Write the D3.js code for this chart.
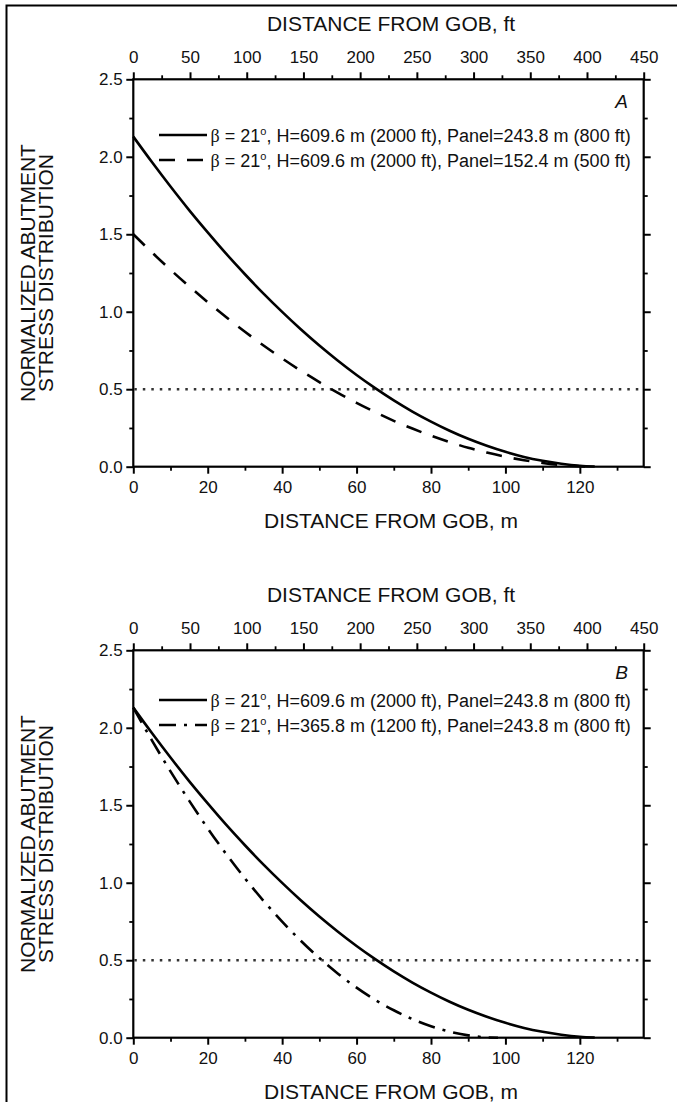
<!DOCTYPE html>
<html><head><meta charset="utf-8">
<script src="https://cdn.jsdelivr.net/npm/d3@7"></script>
<style>
body{margin:0;background:#fff}
svg{display:block}
text{font-family:"Liberation Sans",Arial,Helvetica,sans-serif;fill:#111}
</style>
</head><body>
<svg id="c" width="677" height="1102"></svg>
<script>
// ---------- data ----------
const distM = [0,5,10,15,20,25,30,35,40,45,50,55,60,65,70,75,80,85,90,95,100,105,110,115,120,124];
const stressH2000P800 = [2.13,1.966,1.808,1.656,1.512,1.373,1.242,1.117,0.999,0.887,0.782,0.684,0.592,0.507,0.428,0.356,0.291,0.232,0.180,0.135,0.096,0.063,0.038,0.019,0.006,0.001];
const stressH2000P500 = [1.50,1.383,1.271,1.164,1.062,0.964,0.871,0.782,0.699,0.620,0.546,0.476,0.412,0.352,0.296,0.246,0.200,0.159,0.122,0.091,0.064,0.042,0.024,0.011,0.003,0.0];
const distMShort = [0,5,10,15,20,25,30,35,40,45,50,55,60,65,70,75,80,85,90,95,98];
const stressH1200P800 = [2.13,1.919,1.719,1.530,1.351,1.184,1.028,0.883,0.749,0.626,0.514,0.413,0.323,0.244,0.177,0.120,0.074,0.039,0.015,0.002,0.0];
const thresholdLevel = 0.5;

const yTicks = [0,0.5,1.0,1.5,2.0,2.5];
const yMinorTicks = [0.25,0.75,1.25,1.75,2.25];
const xTicksM = [0,20,40,60,80,100,120];
const xMinorM = [10,30,50,70,90,110,130];
const xTicksFt = [0,50,100,150,200,250,300,350,400,450];
const xMinorFt = [25,75,125,175,225,275,325,375,425];

const labelFt = "DISTANCE FROM GOB, ft";
const labelM = "DISTANCE FROM GOB, m";
const yLabel1 = "NORMALIZED ABUTMENT";
const yLabel2 = "STRESS DISTRIBUTION";
const legendA = ["β = 21°, H=609.6 m (2000 ft), Panel=243.8 m (800 ft)",
                 "β = 21°, H=609.6 m (2000 ft), Panel=152.4 m (500 ft)"];
const legendB = ["β = 21°, H=609.6 m (2000 ft), Panel=243.8 m (800 ft)",
                 "β = 21°, H=365.8 m (1200 ft), Panel=243.8 m (800 ft)"];

// ---------- layout ----------
const svg = d3.select("#c");
svg.append("rect").attr("width",677).attr("height",1102).attr("fill","#fff");
// partial outer frame (left + top)
svg.append("path").attr("d","M6.5,1102V5.5H677").attr("fill","none").attr("stroke","#000").attr("stroke-width",2);

const L = 133.3, R = 643.7, PH = 387.4;
const styles = {
  solid:   {dash:null, w:2.6},
  dashed:  {dash:"16,12", w:2.6},
  dashdot: {dash:"17,8,3,8", w:2.6}
};

function drawPanel(cfg){
  const top = cfg.top, bottom = top + PH;
  const x = d3.scaleLinear().domain([0, 450*0.3048]).range([L, R]);
  const xFt = d3.scaleLinear().domain([0, 450]).range([L, R]);
  const y = d3.scaleLinear().domain([0, 2.5]).range([bottom, top]);
  const g = svg.append("g");

  const fs = 17;
  function styleAxis(sel, minor){
    sel.select(".domain").remove();
    sel.selectAll("line").attr("stroke","#000").attr("stroke-width", minor?1.8:2);
    sel.selectAll("text").attr("font-size",fs).attr("fill","#222")
       .attr("font-family",'"Liberation Sans",Arial,sans-serif');
  }
  // bottom
  g.append("g").attr("transform",`translate(0,${bottom})`)
    .call(d3.axisBottom(x).tickValues(xTicksM).tickSize(7).tickPadding(7).tickFormat(d3.format("d")))
    .call(s=>styleAxis(s,false));
  g.append("g").attr("transform",`translate(0,${bottom})`)
    .call(d3.axisBottom(x).tickValues(xMinorM).tickSize(4).tickFormat(""))
    .call(s=>styleAxis(s,true));
  // top (ft)
  g.append("g").attr("transform",`translate(0,${top})`)
    .call(d3.axisTop(xFt).tickValues(xTicksFt).tickSize(7).tickPadding(9).tickFormat(d3.format("d")))
    .call(s=>styleAxis(s,false));
  g.append("g").attr("transform",`translate(0,${top})`)
    .call(d3.axisTop(xFt).tickValues(xMinorFt).tickSize(4).tickFormat(""))
    .call(s=>styleAxis(s,true));
  // left
  g.append("g").attr("transform",`translate(${L},0)`)
    .call(d3.axisLeft(y).tickValues(yTicks).tickSize(7).tickPadding(3.6).tickFormat(d3.format(".1f")))
    .call(s=>styleAxis(s,false));
  g.append("g").attr("transform",`translate(${L},0)`)
    .call(d3.axisLeft(y).tickValues(yMinorTicks).tickSize(4).tickFormat(""))
    .call(s=>styleAxis(s,true));
  // right
  g.append("g").attr("transform",`translate(${R},0)`)
    .call(d3.axisRight(y).tickValues(yTicks).tickSize(7).tickFormat(""))
    .call(s=>styleAxis(s,false));
  g.append("g").attr("transform",`translate(${R},0)`)
    .call(d3.axisRight(y).tickValues(yMinorTicks).tickSize(4).tickFormat(""))
    .call(s=>styleAxis(s,true));

  // frame
  g.append("rect").attr("x",L).attr("y",top).attr("width",R-L).attr("height",PH)
    .attr("fill","none").attr("stroke","#000").attr("stroke-width",2.2);

  // threshold dotted line
  g.append("line").attr("x1",L+1).attr("x2",R-1).attr("y1",y(thresholdLevel)).attr("y2",y(thresholdLevel))
    .attr("stroke","#333").attr("stroke-width",2.5).attr("stroke-dasharray","2.5,6");

  // curves
  const line = d3.line().x(d=>x(d[0])).y(d=>y(d[1])).curve(d3.curveMonotoneX);
  cfg.series.forEach(s=>{
    const st = styles[s.style];
    g.append("path").datum(s.xs.map((v,i)=>[v,s.ys[i]]))
      .attr("d",line).attr("fill","none").attr("stroke","#000")
      .attr("stroke-width",st.w).attr("stroke-dasharray",st.dash)
      .attr("stroke-linejoin","round");
  });

  // legend
  cfg.series.forEach((s,i)=>{
    const ly = cfg.legendY[i];
    const st = styles[s.style];
    g.append("line").attr("x1",159).attr("x2",207).attr("y1",ly).attr("y2",ly)
      .attr("stroke","#000").attr("stroke-width",st.w).attr("stroke-dasharray",st.dash);
    const parts = s.label.split("°");
    const t = g.append("text").attr("x",210.6).attr("y",ly+6.6).attr("font-size",18);
    const beta = parts[0].charAt(0);
    t.append("tspan").attr("font-family",'"Liberation Serif","Times New Roman",serif').text(beta);
    t.append("tspan").text(parts[0].slice(1));
    t.append("tspan").attr("dy",-7).attr("font-size",11).text("o");
    t.append("tspan").attr("dy",7).text(parts[1]);
  });

  // panel letter
  g.append("text").attr("x",628).attr("y",top+29).attr("text-anchor","end")
    .attr("font-size",19).attr("font-style","italic").text(cfg.letter);

  // axis titles
  const cx = 391;
  g.append("text").attr("x",cx).attr("y",top-48).attr("text-anchor","middle").attr("font-size",21).text(labelFt);
  g.append("text").attr("x",cx).attr("y",bottom+61).attr("text-anchor","middle").attr("font-size",21).text(labelM);
  const cy = (top+bottom)/2;
  g.append("text").attr("transform",`translate(35,${cy}) rotate(-90)`).attr("text-anchor","middle").attr("font-size",21).text(yLabel1);
  g.append("text").attr("transform",`translate(53,${cy}) rotate(-90)`).attr("text-anchor","middle").attr("font-size",21).text(yLabel2);
}

drawPanel({
  top: 79.3, letter: "A", legendY: [135,160],
  series: [
    {xs: distM, ys: stressH2000P800, style:"solid", label: legendA[0]},
    {xs: distM, ys: stressH2000P500, style:"dashed", label: legendA[1]}
  ]
});
drawPanel({
  top: 650.3, letter: "B", legendY: [700,725],
  series: [
    {xs: distM, ys: stressH2000P800, style:"solid", label: legendB[0]},
    {xs: distMShort, ys: stressH1200P800, style:"dashdot", label: legendB[1]}
  ]
});
</script>
</body></html>
